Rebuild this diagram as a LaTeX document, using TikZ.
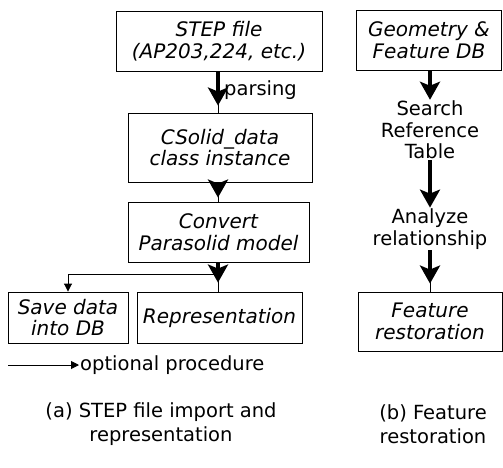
\documentclass[tikz,border=0pt]{standalone}
\usepackage{fontspec}
\setmainfont{DejaVu Sans}
\usetikzlibrary{arrows.meta}
\newcommand{\diagfont}{\fontsize{19.5}{21.5}\selectfont}
\newcommand{\boxfont}{\fontsize{20}{21.5}\selectfont\itshape}
\begin{document}
\begin{tikzpicture}[x=1pt,y=-1pt,
  box/.style={draw, line width=0.9pt, font=\boxfont, align=center, inner sep=0pt},
  plain/.style={font=\diagfont, align=center, inner sep=1pt},
  caption/.style={font=\fontsize{19.5}{24}\selectfont, align=center, inner sep=1pt},
  flow/.style={line width=4.5pt, -{Stealth[length=18pt,width=20pt,inset=4pt]}},
  link/.style={line width=0.8pt},
  opt/.style={line width=0.9pt, -{Triangle[length=8pt,width=8pt]}}]
\useasboundingbox (0,0) rectangle (503,467);

% (a) STEP file import and representation
\node[box, minimum width=206pt, minimum height=60pt] (step)    at (219,41)    {STEP file\\(AP203,224, etc.)};
\node[box, minimum width=184pt, minimum height=69pt] (csolid)  at (220,147.5) {CSolid\_data\\class instance};
\node[box, minimum width=181pt, minimum height=60pt] (convert) at (218.5,232) {Convert\\Parasolid model};
\node[box, minimum width=120pt, minimum height=51pt] (save)    at (68,317.5)  {Save data\\into DB};
\node[box, minimum width=165pt, minimum height=51pt] (rep)     at (219.5,317.5) {Representation};

\coordinate (a1) at (218,0);
\draw[link] (a1 |- step.south) -- (a1 |- csolid.north);
\draw[flow, shorten >=7pt] (a1 |- step.south) -- (a1 |- csolid.north);
\node[plain, anchor=west] (parse) at (223,90) {parsing};
\draw[link] (a1 |- csolid.south) -- (a1 |- convert.north);
\draw[flow, shorten >=4pt] (a1 |- csolid.south) -- (a1 |- convert.north);
\draw[link] (a1 |- convert.south) -- (a1 |- rep.north);
\draw[flow, shorten >=9pt] (a1 |- convert.south) -- (a1 |- rep.north);

% optional branch to the database
\coordinate (branch) at (218,274);
\draw[opt] (branch) -| (save.north);

% legend
\coordinate (legstart) at (8,365);
\node[plain, anchor=west] (legend) at (79,365) {optional procedure};
\draw[opt] (legstart) -- (legend.west);

\node[caption] (capa) at (161,424) {(a) STEP file import and\\representation};

% (b) Feature restoration
\node[box, minimum width=145pt, minimum height=60pt] (geo)  at (429,40)    {Geometry \&\\Feature DB};
\node[plain] (search)  at (430,130) {Search\\Reference\\Table};
\node[plain] (analyze) at (430,229) {Analyze\\relationship};
\node[box, minimum width=144pt, minimum height=59pt] (feat) at (430,321.5) {Feature\\restoration};

\coordinate (b1) at (430,0);
\draw[flow] (b1 |- geo.south) -- (b1 |- search.north);
\draw[flow] (b1 |- search.south) -- (b1 |- analyze.north);
\draw[link] (b1 |- analyze.south) -- (b1 |- feat.north);
\draw[flow, shorten >=8pt] (b1 |- analyze.south) -- (b1 |- feat.north);

\node[caption] (capb) at (433,424) {(b) Feature\\restoration};
\end{tikzpicture}
\end{document}
